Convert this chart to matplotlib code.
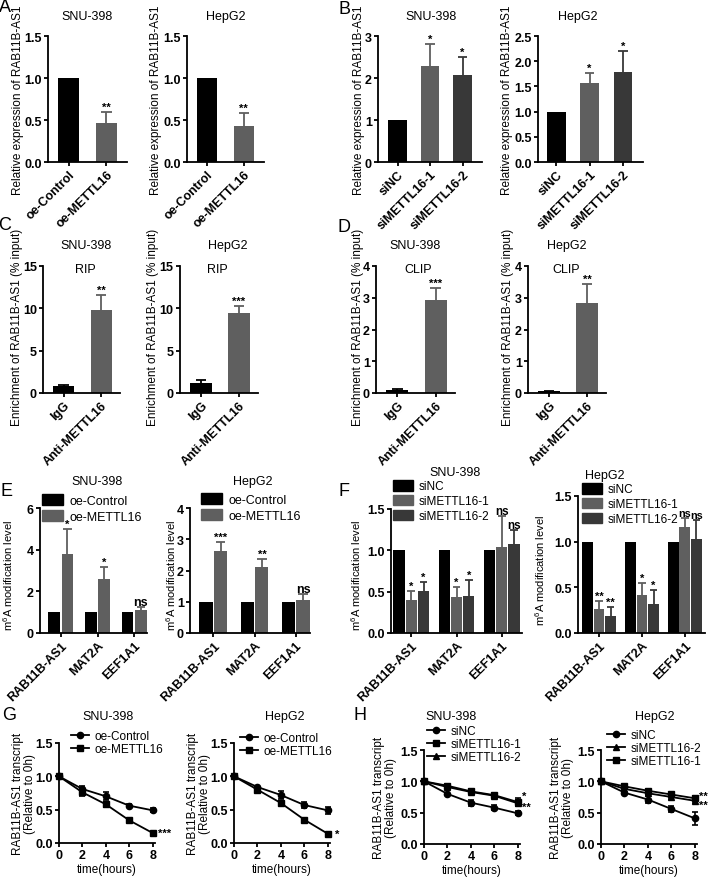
import matplotlib
matplotlib.use('Agg')
import matplotlib.pyplot as plt
from matplotlib.patches import Patch
from matplotlib.lines import Line2D
import numpy as np

plt.rcParams['font.family'] = ['Liberation Sans', 'DejaVu Sans']
plt.rcParams['mathtext.fontset'] = 'custom'
plt.rcParams['mathtext.rm'] = 'Liberation Sans'

# ---- data ----
a_labels = ['oe-Control', 'oe-METTL16']
a_snu = [1.0, 0.46]
a_snu_err = [0.0, 0.14]
a_hep = [1.0, 0.43]
a_hep_err = [0.0, 0.15]
a_stars = ['', '**']

b_labels = ['siNC', 'siMETTL16-1', 'siMETTL16-2']
b_snu = [1.0, 2.28, 2.08]
b_snu_err = [0.0, 0.52, 0.42]
b_hep = [1.0, 1.56, 1.78]
b_hep_err = [0.0, 0.21, 0.42]
b_stars = ['', '*', '*']

c_labels = ['IgG', 'Anti-METTL16']
c_snu = [0.8, 9.8]
c_snu_err = [0.15, 1.8]
c_hep = [1.2, 9.4]
c_hep_err = [0.35, 0.9]
c_stars_snu = ['', '**']
c_stars_hep = ['', '***']

d_snu = [0.1, 2.92]
d_snu_err = [0.04, 0.38]
d_hep = [0.05, 2.85]
d_hep_err = [0.02, 0.58]
d_stars_snu = ['', '***']
d_stars_hep = ['', '**']

genes = ['RAB11B-AS1', 'MAT2A', 'EEF1A1']
e_ctrl = [1.0, 1.0, 1.0]
e_snu_oe = [3.78, 2.58, 1.12]
e_snu_oe_err = [1.2, 0.6, 0.12]
e_snu_stars = ['*', '*', 'ns']
e_hep_oe = [2.63, 2.1, 1.05]
e_hep_oe_err = [0.29, 0.28, 0.2]
e_hep_stars = ['***', '**', 'ns']

f_nc = [1.0, 1.0, 1.0]
f_snu_si1 = [0.40, 0.43, 1.04]
f_snu_si1_err = [0.11, 0.13, 0.37]
f_snu_si2 = [0.51, 0.45, 1.08]
f_snu_si2_err = [0.11, 0.19, 0.16]
f_snu_stars1 = ['*', '*', 'ns']
f_snu_stars2 = ['*', '*', 'ns']
f_hep_si1 = [0.26, 0.42, 1.16]
f_hep_si1_err = [0.09, 0.13, 0.10]
f_hep_si2 = [0.19, 0.32, 1.03]
f_hep_si2_err = [0.09, 0.15, 0.21]
f_hep_stars1 = ['**', '*', 'ns']
f_hep_stars2 = ['**', '*', 'ns']

hours = [0, 2, 4, 6, 8]
g_snu_ctrl = [1.0, 0.81, 0.70, 0.56, 0.49]
g_snu_ctrl_err = [0, 0.04, 0.06, 0.02, 0.03]
g_snu_oe = [1.0, 0.76, 0.58, 0.34, 0.15]
g_snu_oe_err = [0, 0.06, 0.04, 0.02, 0.02]
g_hep_ctrl = [1.0, 0.84, 0.72, 0.57, 0.49]
g_hep_ctrl_err = [0, 0.02, 0.06, 0.04, 0.05]
g_hep_oe = [1.0, 0.80, 0.60, 0.35, 0.14]
g_hep_oe_err = [0, 0.04, 0.03, 0.02, 0.02]

h_snu_nc = [1.0, 0.80, 0.66, 0.58, 0.49]
h_snu_nc_err = [0, 0.02, 0.05, 0.04, 0.03]
h_snu_si1 = [1.0, 0.93, 0.84, 0.78, 0.67]
h_snu_si1_err = [0, 0.03, 0.03, 0.04, 0.07]
h_snu_si2 = [1.0, 0.91, 0.83, 0.77, 0.65]
h_snu_si2_err = [0, 0.03, 0.03, 0.03, 0.05]
h_hep_nc = [1.0, 0.82, 0.71, 0.56, 0.41]
h_hep_nc_err = [0, 0.03, 0.05, 0.05, 0.10]
h_hep_si2 = [1.0, 0.88, 0.81, 0.75, 0.69]
h_hep_si2_err = [0, 0.03, 0.03, 0.03, 0.03]
h_hep_si1 = [1.0, 0.92, 0.85, 0.79, 0.73]
h_hep_si1_err = [0, 0.03, 0.03, 0.03, 0.03]

BLACK = '#000000'
GRAY = '#5f5f5f'
DARK = '#383838'

TICK_FS = 9
TITLE_FS = 9
STAR_FS = 8

W, H = 708, 879
fig = plt.figure(figsize=(W / 100, H / 100), dpi=100)


def px_axes(l, t, r, b):
    return fig.add_axes([l / W, 1 - b / H, (r - l) / W, (b - t) / H])


def ftext(x, y, s, **kw):
    kw.setdefault('ha', 'center')
    kw.setdefault('va', 'center')
    fig.text(x / W, 1 - y / H, s, **kw)


def fmt_tick(v, ticks):
    if all(float(t).is_integer() for t in ticks):
        return '%d' % v
    return '%.1f' % v


def style(ax, yticks, xticks=None, xlabels=None):
    for s in ['top', 'right']:
        ax.spines[s].set_visible(False)
    for s in ['left', 'bottom']:
        ax.spines[s].set_linewidth(1.3)
    ax.tick_params(direction='out', length=3, width=1.3, pad=1.5, labelsize=TICK_FS)
    ax.set_yticks(yticks)
    ax.set_yticklabels([fmt_tick(v, yticks) for v in yticks], fontweight='bold')
    if xticks is not None:
        ax.set_xticks(xticks)
        if xlabels is None:
            ax.set_xticklabels([str(v) for v in xticks], fontweight='bold')
        else:
            ax.set_xticklabels(xlabels, fontweight='bold', rotation=45,
                               ha='right', rotation_mode='anchor')


def star(ax, x, top, s, ns_fs=9):
    # asterisks sit just above the error cap
    fs = ns_fs if s == 'ns' else STAR_FS
    ax.annotate(s, (x, top), xytext=(0, 1.5), textcoords='offset points',
                ha='center', va='baseline', fontsize=fs, fontweight='bold')


def err_up(ax, x, v, e, color, cap):
    if e <= 0:
        return
    ax.vlines(x, v, v + e, color=color, lw=1.3, zorder=3)
    ax.hlines(v + e, x - cap, x + cap, color=color, lw=1.3, zorder=3)


def simple_bars(ax, vals, errs, colors, stars, labels, ymax, yticks, xr):
    x = np.arange(len(vals))
    ax.bar(x, vals, width=0.56, color=colors, zorder=2)
    for i in range(len(vals)):
        err_up(ax, x[i], vals[i], errs[i], colors[i], 0.14)
        if stars[i]:
            star(ax, x[i], vals[i] + errs[i], stars[i])
    ax.set_xlim(*xr)
    ax.set_ylim(0, ymax)
    style(ax, yticks, x, labels)


# ---- row A / B ----
ax = px_axes(48, 37, 127, 163)
simple_bars(ax, a_snu, a_snu_err, [BLACK, GRAY], a_stars, a_labels, 1.5, [0, 0.5, 1.0, 1.5], (-0.55, 1.55))
ax = px_axes(187, 37, 264, 163)
simple_bars(ax, a_hep, a_hep_err, [BLACK, GRAY], a_stars, a_labels, 1.5, [0, 0.5, 1.0, 1.5], (-0.55, 1.55))
ax = px_axes(378, 37, 482, 163)
simple_bars(ax, b_snu, b_snu_err, [BLACK, GRAY, DARK], b_stars, b_labels, 3, [0, 1, 2, 3], (-0.6, 2.6))
ax = px_axes(538, 37, 643, 163)
simple_bars(ax, b_hep, b_hep_err, [BLACK, GRAY, DARK], b_stars, b_labels, 2.5, [0, 0.5, 1.0, 1.5, 2.0, 2.5], (-0.55, 2.6))

for xc, t in [(87, 'SNU-398'), (226, 'HepG2'), (431, 'SNU-398'), (578, 'HepG2')]:
    ftext(xc, 17, t, fontsize=TITLE_FS)
for xc in [18, 156, 359, 507]:
    ftext(xc, 100, 'Relative expression of RAB11B-AS1', rotation=90, fontsize=8.5)

# ---- row C / D ----
ax = px_axes(43, 267, 120, 394)
simple_bars(ax, c_snu, c_snu_err, [BLACK, GRAY], c_stars_snu, c_labels, 15, [0, 5, 10, 15], (-0.55, 1.5))
ax = px_axes(180, 267, 258, 394)
simple_bars(ax, c_hep, c_hep_err, [BLACK, GRAY], c_stars_hep, c_labels, 15, [0, 5, 10, 15], (-0.55, 1.5))
ax = px_axes(376, 267, 455, 394)
simple_bars(ax, d_snu, d_snu_err, [BLACK, GRAY], d_stars_snu, c_labels, 4, [0, 1, 2, 3, 4], (-0.55, 1.5))
ax = px_axes(528, 267, 606, 394)
simple_bars(ax, d_hep, d_hep_err, [BLACK, GRAY], d_stars_hep, c_labels, 4, [0, 1, 2, 3, 4], (-0.55, 1.5))

for xc, t in [(86, 'SNU-398'), (228, 'HepG2'), (415, 'SNU-398'), (567, 'HepG2')]:
    ftext(xc, 246, t, fontsize=TITLE_FS)
for xc, t in [(85, 'RIP'), (217, 'RIP'), (418, 'CLIP'), (566, 'CLIP')]:
    ftext(xc, 270, t, fontsize=TITLE_FS)
for xc in [17, 153, 358, 508]:
    ftext(xc, 327, 'Enrichment of RAB11B-AS1 (% input)', rotation=90, fontsize=8.5)


# ---- row E / F ----
def group_bars(ax, series, errs, colors, stars, width, offsets, ns_fs=9):
    x = np.arange(len(genes))
    for s, vals in enumerate(series):
        ax.bar(x + offsets[s], vals, width=width, color=colors[s], zorder=2)
        for i in range(len(genes)):
            err_up(ax, x[i] + offsets[s], vals[i], errs[s][i], colors[s], width * 0.35)
            if stars[s][i]:
                star(ax, x[i] + offsets[s], vals[i] + errs[s][i], stars[s][i], ns_fs)


def bar_legend(ax, handles, x, y, fs, spacing):
    ax.legend(handles=handles, loc='upper left', bbox_to_anchor=(x / W, 1 - y / H),
              bbox_transform=fig.transFigure, frameon=False, fontsize=fs, handlelength=1.7,
              handleheight=1.0, handletextpad=0.5, labelspacing=spacing, borderpad=0,
              borderaxespad=0)


ax = px_axes(40, 509, 147, 634)
group_bars(ax, [e_ctrl, e_snu_oe], [[0, 0, 0], e_snu_oe_err], [BLACK, GRAY],
           [['', '', ''], e_snu_stars], 0.32, [-0.18, 0.18])
ax.set_xlim(-0.57, 2.35)
ax.set_ylim(0, 6)
style(ax, [0, 2, 4, 6], [0, 1, 2], genes)
bar_legend(ax, [Patch(color=BLACK, label='oe-Control'), Patch(color=GRAY, label='oe-METTL16')],
           42, 495, 9, 0.25)

ax = px_axes(190, 509, 310, 634)
group_bars(ax, [e_ctrl, e_hep_oe], [[0, 0, 0], e_hep_oe_err], [BLACK, GRAY],
           [['', '', ''], e_hep_stars], 0.32, [-0.18, 0.18])
ax.set_xlim(-0.57, 2.35)
ax.set_ylim(0, 4)
style(ax, [0, 1, 2, 3, 4], [0, 1, 2], genes)
bar_legend(ax, [Patch(color=BLACK, label='oe-Control'), Patch(color=GRAY, label='oe-METTL16')],
           201, 494, 9, 0.25)

ax = px_axes(391, 510, 522, 634)
group_bars(ax, [f_nc, f_snu_si1, f_snu_si2], [[0, 0, 0], f_snu_si1_err, f_snu_si2_err],
           [BLACK, GRAY, DARK], [['', '', ''], f_snu_stars1, f_snu_stars2], 0.25, [-0.27, 0, 0.27],
           ns_fs=8.5)
ax.set_xlim(-0.45, 2.45)
ax.set_ylim(0, 1.5)
style(ax, [0, 0.5, 1.0, 1.5], [0, 1, 2], genes)
bar_legend(ax, [Patch(color=BLACK, label='siNC'), Patch(color=GRAY, label='siMETTL16-1'),
                Patch(color=DARK, label='siMETTL16-2')], 393, 481, 8.5, 0.22)

ax = px_axes(578, 497, 705, 634)
group_bars(ax, [f_nc, f_hep_si1, f_hep_si2], [[0, 0, 0], f_hep_si1_err, f_hep_si2_err],
           [BLACK, GRAY, DARK], [['', '', ''], f_hep_stars1, f_hep_stars2], 0.25, [-0.27, 0, 0.27],
           ns_fs=7.8)
ax.set_xlim(-0.49, 2.47)
ax.set_ylim(0, 1.5)
style(ax, [0, 0.5, 1.0, 1.5], [0, 1, 2], genes)
bar_legend(ax, [Patch(color=BLACK, label='siNC'), Patch(color=GRAY, label='siMETTL16-1'),
                Patch(color=DARK, label='siMETTL16-2')], 582, 484, 8.5, 0.22)

for xc, yc, t in [(97, 482, 'SNU-398'), (253, 482, 'HepG2'), (455, 473, 'SNU-398'), (605, 476, 'HepG2')]:
    ftext(xc, yc, t, fontsize=TITLE_FS)
for xc, yc in [(8, 575), (171, 575), (356, 575), (540, 570)]:
    ftext(xc, yc, r'm$^{\mathregular{6}}$A modification level', rotation=90, fontsize=8)


# ---- row G / H ----
def line_panel(ax, series, errs, markers, labels, stars, leg_xy):
    handles = []
    for vals, e, m, lab in zip(series, errs, markers, labels):
        ax.errorbar(hours, vals, yerr=e, color='black', marker=m, ms=4.5, lw=1.3,
                    elinewidth=1.2, capsize=2, capthick=1.2, clip_on=False, zorder=3)
        handles.append(Line2D([], [], color='black', marker=m, ms=4.5, lw=1.3, label=lab))
    for (sx, sy, s) in stars:
        ax.text(sx, sy, s, ha='left', va='center', fontsize=STAR_FS, fontweight='bold')
    ax.set_xlim(0, 8.2)
    ax.set_ylim(0, 1.5)
    style(ax, [0, 0.5, 1.0, 1.5], hours)
    ax.set_xlabel('time(hours)', fontsize=8.5, labelpad=1)
    ax.legend(handles=handles, loc='upper left', bbox_to_anchor=(leg_xy[0] / W, 1 - leg_xy[1] / H),
              bbox_transform=fig.transFigure, frameon=False, fontsize=8.5, handlelength=1.5,
              handletextpad=0.5, labelspacing=0.1, borderpad=0, borderaxespad=0)


ax = px_axes(59, 744, 155, 844)
line_panel(ax, [g_snu_ctrl, g_snu_oe], [g_snu_ctrl_err, g_snu_oe_err], ['o', 's'],
           ['oe-Control', 'oe-METTL16'], [(8.45, 0.15, '***')], (71, 731))
ax = px_axes(234, 744, 330, 844)
line_panel(ax, [g_hep_ctrl, g_hep_oe], [g_hep_ctrl_err, g_hep_oe_err], ['o', 's'],
           ['oe-Control', 'oe-METTL16'], [(8.6, 0.13, '*')], (240, 733))
ax = px_axes(424, 751, 520, 845)
line_panel(ax, [h_snu_nc, h_snu_si1, h_snu_si2], [h_snu_nc_err, h_snu_si1_err, h_snu_si2_err],
           ['o', 's', '^'], ['siNC', 'siMETTL16-1', 'siMETTL16-2'],
           [(8.35, 0.77, '*'), (8.35, 0.60, '**')], (427, 726))
ax = px_axes(601, 751, 697, 845)
line_panel(ax, [h_hep_nc, h_hep_si2, h_hep_si1], [h_hep_nc_err, h_hep_si2_err, h_hep_si1_err],
           ['o', '^', 's'], ['siNC', 'siMETTL16-2', 'siMETTL16-1'],
           [(8.35, 0.77, '**'), (8.35, 0.63, '**')], (607, 730))

for xc, t in [(108, 'SNU-398'), (285, 'HepG2'), (451, 'SNU-398'), (655, 'HepG2')]:
    ftext(xc, 717, t, fontsize=TITLE_FS)
for xc, yc in [(24, 794), (199, 794), (385, 798), (562, 798)]:
    ftext(xc, yc, 'RAB11B-AS1 transcript\n(Relative to 0h)', rotation=90, fontsize=8.5,
          multialignment='center', linespacing=1.05)

# ---- panel letters ----
for x, y, s in [(5, 8, 'A'), (344, 9, 'B'), (5, 226, 'C'), (344, 228, 'D'),
                (6, 492, 'E'), (344, 492, 'F'), (9, 716, 'G'), (360, 716, 'H')]:
    ftext(x, y, s, fontsize=13)

fig.savefig('out.png', dpi=100)
